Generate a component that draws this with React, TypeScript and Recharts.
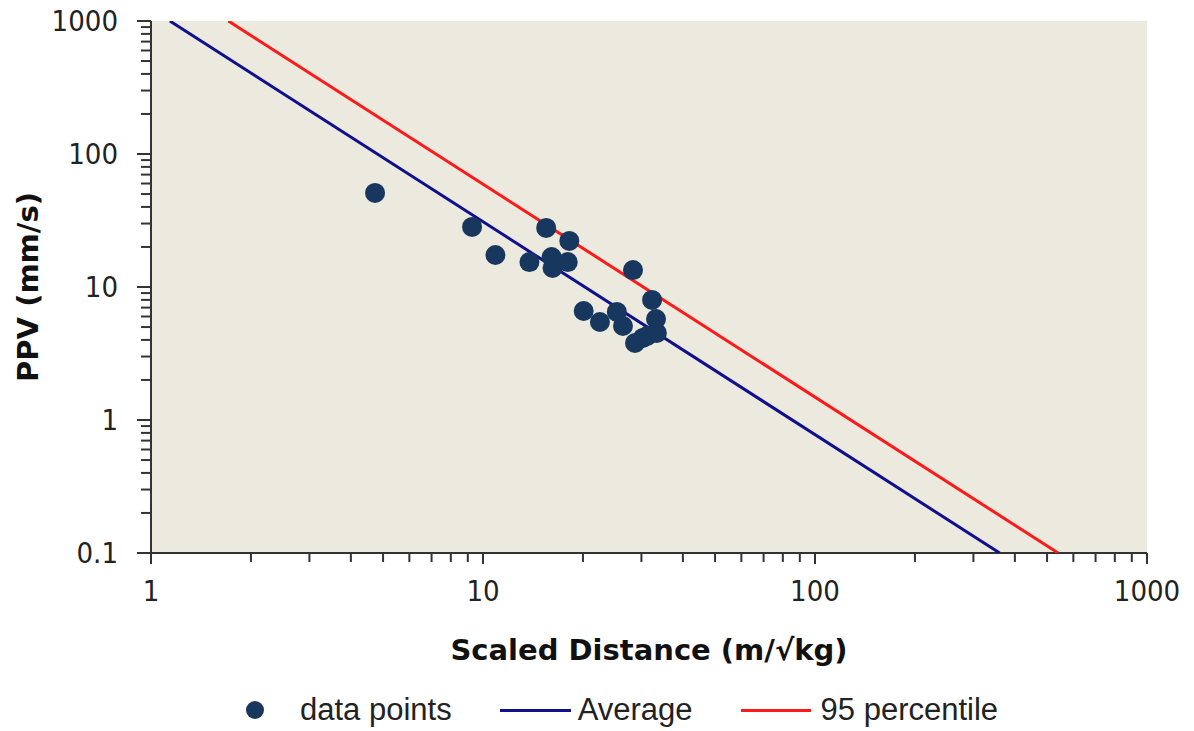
import React from 'react';
import {ScatterChart, Scatter, XAxis, YAxis, CartesianGrid, Legend} from 'recharts';

// measured points (scaled distance, PPV)
const distance = [4.73, 9.27, 10.9, 13.8, 15.5, 18.2, 16.1, 16.2, 18.0, 28.3, 32.3, 20.1, 22.5, 25.3, 26.4, 33.2, 33.4, 28.7, 30.3, 31.3];
const ppv = [51, 28.3, 17.4, 15.4, 27.8, 22.2, 16.8, 13.9, 15.4, 13.4, 8.0, 6.6, 5.46, 6.5, 5.09, 5.75, 4.51, 3.79, 4.14, 4.3];

// fitted lines, end points
const averageX = [1.14, 360];
const averageY = [1000, 0.1];
const p95X = [1.71, 540];
const p95Y = [1000, 0.1];

const xDecades = [1, 10, 100];
const yDecades = [0.1, 1, 10, 100];
const minorSteps = [1, 2, 3, 4, 5, 6, 7, 8, 9];
const xLabels = ['1', '10', '100', '1000'];
const yLabels = ['0.1', '1', '10', '100', '1000'];

const xTicks = [...xDecades.flatMap(d => minorSteps.map(m => +(d * m).toPrecision(3))), 1000];
const yTicks = [...yDecades.flatMap(d => minorSteps.map(m => +(d * m).toPrecision(3))), 1000];

const points = distance.map((x, i) => ({x, y: ppv[i]}));
const average = averageX.map((x, i) => ({x, y: averageY[i]}));
const p95 = p95X.map((x, i) => ({x, y: p95Y[i]}));

const NAVY_DOT = '#17375E';
const NAVY = '#10108C';
const RED = '#FF1A1A';
const AXIS = '#333';
const TICK_FONT = '"DejaVu Sans Condensed", "DejaVu Sans", sans-serif';
const TITLE_FONT = '"DejaVu Sans", sans-serif';

const labelOf = (v: number, labels: string[]) => labels.find(l => +l === v);

const XTick = (p: any) => {
    const v = p.payload.value;
    const lab = labelOf(v, xLabels);
    const axisY = p.y - 10 - 17;
    return (
        <g>
            <line x1={p.x} x2={p.x} y1={axisY} y2={axisY + (lab ? 11 : 9)} stroke={AXIS} strokeWidth={2} />
            {lab && <text x={p.x} y={p.y} dy="0.71em" textAnchor="middle" fontSize={29} fill="#222" fontFamily={TICK_FONT}>{lab}</text>}
        </g>
    );
};

const YTick = (p: any) => {
    const v = p.payload.value;
    const lab = labelOf(v, yLabels);
    const axisX = p.x + 13 + 20;
    return (
        <g>
            <line x1={axisX - (lab ? 14 : 10)} x2={axisX} y1={p.y} y2={p.y} stroke={AXIS} strokeWidth={2} />
            {lab && <text x={p.x} y={p.y} dy="0.355em" textAnchor="end" fontSize={29} fill="#222" fontFamily={TICK_FONT}>{lab}</text>}
        </g>
    );
};

const nothing = () => <g />;

const LegendBox = () => (
    <div style={{display: 'flex', alignItems: 'center', height: 48, paddingTop: 6, paddingLeft: 246, boxSizing: 'border-box',
        fontFamily: '"Liberation Sans", Arial, sans-serif', fontSize: 31, color: '#222'}}>
        <span style={{width: 18, height: 18, borderRadius: 9, background: NAVY_DOT, display: 'inline-block'}} />
        <span style={{marginLeft: 36}}>data points</span>
        <span style={{marginLeft: 48, width: 71, height: 3, background: NAVY, display: 'inline-block'}} />
        <span style={{marginLeft: 7}}>Average</span>
        <span style={{marginLeft: 48, width: 70, height: 3, background: RED, display: 'inline-block'}} />
        <span style={{marginLeft: 10}}>95 percentile</span>
    </div>
);

export default function App() {
    return (
        <div style={{position: 'absolute', left: 0, top: 0, background: '#fff'}}>
            <ScatterChart width={1194} height={731} margin={{top: 21, right: 47, left: 0, bottom: 0}}>
                <CartesianGrid fill="#ECE9DF" stroke="none" />
                <XAxis type="number" dataKey="x" scale="log" domain={[1, 1000]} allowDataOverflow
                       ticks={xTicks} interval={0} height={130} tickSize={10} tickMargin={17} tickLine={false}
                       tick={<XTick />} axisLine={{stroke: AXIS, strokeWidth: 2}}
                       label={{value: 'Scaled Distance (m/√kg)', position: 'insideBottom', offset: 23,
                           style: {fontSize: 29, fontWeight: 'bold', fill: '#111', fontFamily: TITLE_FONT}}} />
                <YAxis type="number" dataKey="y" scale="log" domain={[0.1, 1000]} allowDataOverflow
                       ticks={yTicks} interval={0} width={151} tickSize={13} tickMargin={20} tickLine={false}
                       tick={<YTick />} axisLine={{stroke: AXIS, strokeWidth: 2}}
                       label={{value: 'PPV (mm/s)', angle: -90, position: 'insideLeft', offset: 28,
                           style: {fontSize: 29, fontWeight: 'bold', fill: '#111', fontFamily: TITLE_FONT, textAnchor: 'middle'}}} />
                <Legend verticalAlign="bottom" content={<LegendBox />} />
                <Scatter name="Average" data={average} line={{stroke: NAVY, strokeWidth: 3}} shape={nothing} isAnimationActive={false} />
                <Scatter name="95 percentile" data={p95} line={{stroke: RED, strokeWidth: 3}} shape={nothing} isAnimationActive={false} />
                <Scatter name="data points" data={points} fill={NAVY_DOT} isAnimationActive={false}
                         shape={(p: any) => <circle cx={p.cx} cy={p.cy} r={10} fill={NAVY_DOT} />} />
            </ScatterChart>
        </div>
    );
}
